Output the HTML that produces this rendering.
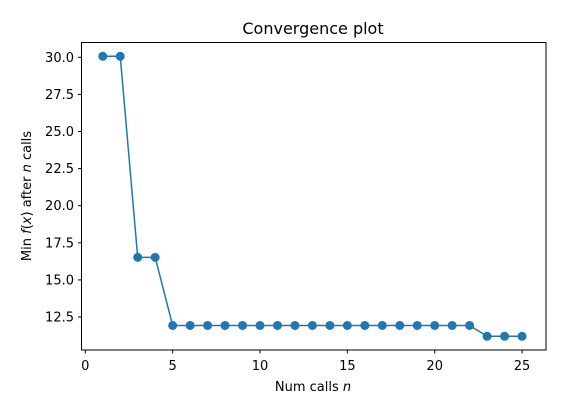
<!DOCTYPE html>
<html><head><meta charset="utf-8"><style>
body{margin:0;background:#fff;font-family:"Liberation Sans","DejaVu Sans",sans-serif}
svg text{font-family:"DejaVu Sans","Liberation Sans",sans-serif;font-size:13px;fill:#000}
</style></head><body>
<svg id="chart" width="568" height="411" xmlns="http://www.w3.org/2000/svg">
<rect width="568" height="411" fill="#fff"/>
<text x="313" y="34" text-anchor="middle" style="font-size:16px">Convergence plot</text>
<g id="plot"></g>
<rect x="81.5" y="42.5" width="464.5" height="307.5" fill="none" stroke="#000" stroke-width="1"/>
<text x="313" y="391" text-anchor="middle">Num calls <tspan font-style="italic">n</tspan></text>
<text transform="translate(31,196) rotate(-90)" text-anchor="middle">Min <tspan font-style="italic">f</tspan>(<tspan font-style="italic">x</tspan>) after <tspan font-style="italic">n</tspan> calls</text>
</svg>
<script>
const calls=[1,2,3,4,5,6,7,8,9,10,11,12,13,14,15,16,17,18,19,20,21,22,23,24,25];
const minValues=[30.07,30.07,16.52,16.52,11.93,11.93,11.93,11.93,11.93,11.93,11.93,11.93,11.93,11.93,11.93,11.93,11.93,11.93,11.93,11.93,11.93,11.93,11.2,11.2,11.2];
const xTicks=[0,5,10,15,20,25];
const yTicks=[12.5,15.0,17.5,20.0,22.5,25.0,27.5,30.0];
const NS="http://www.w3.org/2000/svg";
const X=v=>85.3+(v-0)*17.47;
const Y=v=>57.3+(30-v)*14.84;
const g=document.getElementById('plot');
function mk(t,a){const e=document.createElementNS(NS,t);for(const k in a)e.setAttribute(k,a[k]);g.appendChild(e);return e;}
xTicks.forEach(t=>{
 const l=mk('line',{x1:X(t),x2:X(t),y1:350,y2:353.5,stroke:'#000'});
 
 
 const tx=mk('text',{x:X(t),y:370,'text-anchor':'middle'});tx.textContent=t;
 
 
});
yTicks.forEach(t=>{
 const l=mk('line',{x1:78,x2:81.5,y1:Y(t),y2:Y(t),stroke:'#000'});
 
 
 const tx=mk('text',{x:74,y:Y(t)+4.5,'text-anchor':'end'});tx.textContent=t.toFixed(1);
 
 
});
const pl=mk('polyline',{points:calls.map((c,i)=>X(c)+','+Y(minValues[i])).join(' '),fill:'none',stroke:'#1f77b4','stroke-width':1.5});


calls.forEach((c,i)=>{
 const p=mk('circle',{cx:X(c),cy:Y(minValues[i]),r:4.5,fill:'#1f77b4'});
 
 
});
</script>
</body></html>
